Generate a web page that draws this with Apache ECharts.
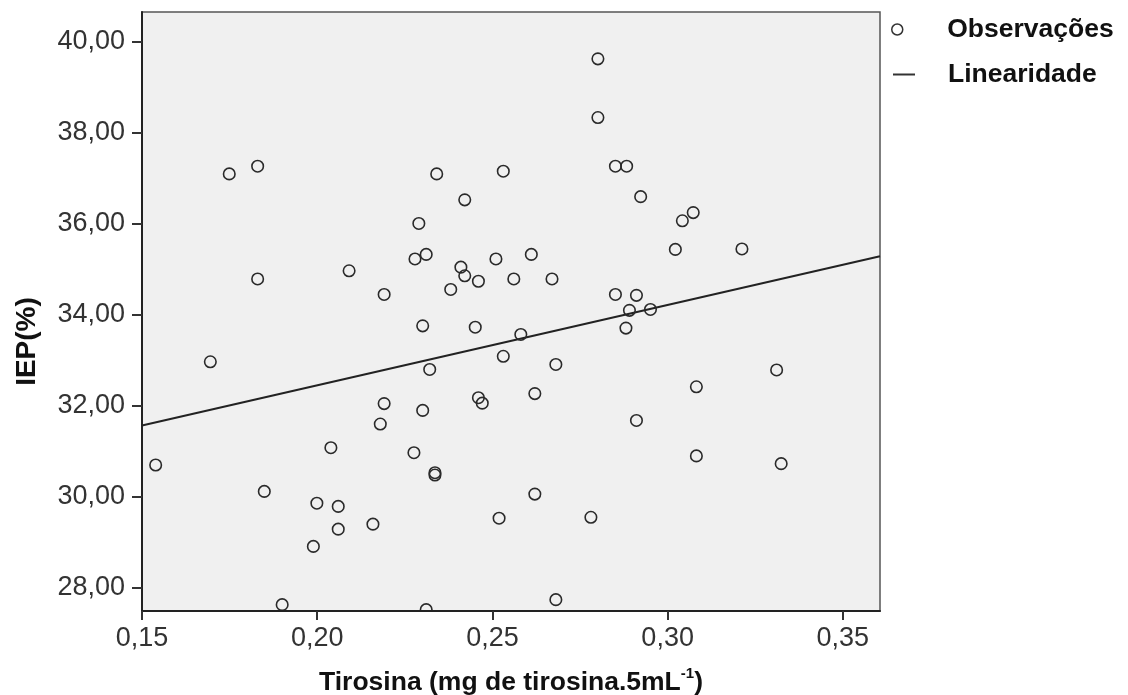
<!DOCTYPE html>
<html>
<head>
<meta charset="utf-8">
<script src="https://cdn.jsdelivr.net/npm/echarts@6/dist/echarts.min.js"></script>
<style>
html,body{margin:0;padding:0;background:#fff;}
#chart{width:1128px;height:695px;}
</style>
</head>
<body>
<div id="chart"></div>
<script>
// Observations: tirosina (x) and IEP % (y)
const obsX = [0.1539,0.1695,0.1749,0.1830,0.1830,0.1849,0.1900,0.1989,0.1999,0.2039,
  0.2060,0.2060,0.2091,0.2159,0.2180,0.2191,0.2191,0.2276,0.2279,0.2290,
  0.2301,0.2301,0.2311,0.2311,0.2321,0.2336,0.2336,0.2341,0.2381,0.2410,
  0.2421,0.2421,0.2451,0.2460,0.2460,0.2471,0.2510,0.2519,0.2531,0.2531,
  0.2561,0.2581,0.2611,0.2621,0.2621,0.2670,0.2681,0.2681,0.2781,0.2801,
  0.2801,0.2851,0.2883,0.2851,0.2881,0.2891,0.2911,0.2911,0.2923,0.2951,
  0.3022,0.3042,0.3073,0.3082,0.3082,0.3212,0.3311,0.3324];
const obsY = [30.70,32.97,37.10,37.27,34.79,30.12,27.63,28.91,29.86,31.08,
  29.79,29.29,34.97,29.40,31.60,32.05,34.45,30.97,35.23,36.01,
  33.76,31.90,35.33,27.52,32.80,30.53,30.48,37.10,34.56,35.05,
  34.86,36.53,33.73,34.74,32.18,32.06,35.23,29.53,37.16,33.09,
  34.79,33.57,35.33,32.27,30.06,34.79,32.91,27.74,29.55,39.63,
  38.34,37.27,37.27,34.45,33.71,34.10,34.43,31.68,36.60,34.12,
  35.44,36.07,36.25,32.42,30.90,35.45,32.79,30.73];
// Fitted line endpoints
const lineX = [0.15, 0.3606];
const lineY = [31.57, 35.29];
// Axis ticks
const xTicks = [0.15, 0.20, 0.25, 0.30, 0.35];
const yTicks = [28, 30, 32, 34, 36, 38, 40];
const seriesNames = ['Observações', 'Linearidade'];

const fmt = v => v.toFixed(2).replace('.', ',');
const FONT = 'Liberation Sans, Arial, sans-serif';
const legendText = {fontSize: 26.5, fontWeight: 'bold', color: '#111', fontFamily: FONT};

const chart = echarts.init(document.getElementById('chart'), null, {renderer: 'canvas'});
chart.setOption({
  animation: false,
  backgroundColor: '#ffffff',
  textStyle: {fontFamily: FONT},
  grid: {
    left: 142, top: 12, right: 248, bottom: 84,
    outerBoundsMode: 'none', containLabel: false,
    show: true, backgroundColor: '#f0f0f0', borderColor: '#555', borderWidth: 1.5
  },
  legend: [
    {
      orient: 'vertical', left: 886, top: 11,
      itemWidth: 24, itemHeight: 11,
      textStyle: Object.assign({padding: [0, 0, 0, 33]}, legendText),
      data: [{name: seriesNames[0], icon: 'circle',
        itemStyle: {color: 'rgba(0,0,0,0)', borderColor: '#333', borderWidth: 1.5}}]
    },
    {
      orient: 'vertical', left: 888, top: 56,
      itemWidth: 22, itemHeight: 2,
      textStyle: Object.assign({padding: [0, 0, 0, 28]}, legendText),
      data: [{name: seriesNames[1], icon: 'rect', itemStyle: {color: '#333'}}]
    }
  ],
  xAxis: {
    type: 'value', min: 0.15, max: 0.3606, z: 5,
    axisLine: {show: true, lineStyle: {color: '#222', width: 2}},
    axisTick: {show: true, length: 9, lineStyle: {color: '#333', width: 2}, customValues: xTicks},
    axisLabel: {customValues: xTicks, formatter: v => fmt(v), fontSize: 27, color: '#333', margin: 14},
    splitLine: {show: false},
    name: '{b|Tirosina (mg de tirosina.5mL}{s|-1}{b|)}',
    nameLocation: 'middle', nameGap: 55,
    nameTextStyle: {
      rich: {
        b: {fontSize: 26.5, fontWeight: 'bold', color: '#111', fontFamily: FONT, verticalAlign: 'bottom', lineHeight: 30},
        s: {fontSize: 15, fontWeight: 'bold', color: '#111', fontFamily: FONT, verticalAlign: 'top', lineHeight: 30, padding: [0,0,12,0]}
      }
    }
  },
  yAxis: {
    type: 'value', min: 27.49, max: 40.66, z: 5,
    axisLine: {show: true, lineStyle: {color: '#222', width: 2}},
    axisTick: {show: true, length: 10, lineStyle: {color: '#333', width: 2}, customValues: yTicks},
    axisLabel: {customValues: yTicks, formatter: v => fmt(v), fontSize: 27, color: '#333', margin: 17},
    splitLine: {show: false},
    name: 'IEP(%)', nameLocation: 'middle', nameGap: 101,
    nameTextStyle: {fontSize: 28, fontWeight: 'bold', color: '#111', padding: [0, 60, 0, 0]}
  },
  graphic: [{
    type: 'rect', z: 3, silent: true,
    shape: {x: 142, y: 612, width: 738, height: 14},
    style: {fill: '#ffffff'}
  }],
  series: [
    {
      name: seriesNames[0], type: 'scatter', z: 2,
      data: obsX.map((x, i) => [x, obsY[i]]),
      symbol: 'circle', symbolSize: 11.5,
      itemStyle: {color: 'rgba(0,0,0,0)', borderColor: '#2a2a2a', borderWidth: 1.6, opacity: 1}
    },
    {
      name: seriesNames[1], type: 'line', z: 2,
      data: lineX.map((x, i) => [x, lineY[i]]),
      symbol: 'none', lineStyle: {color: '#222', width: 2}
    }
  ]
});
</script>
</body>
</html>
